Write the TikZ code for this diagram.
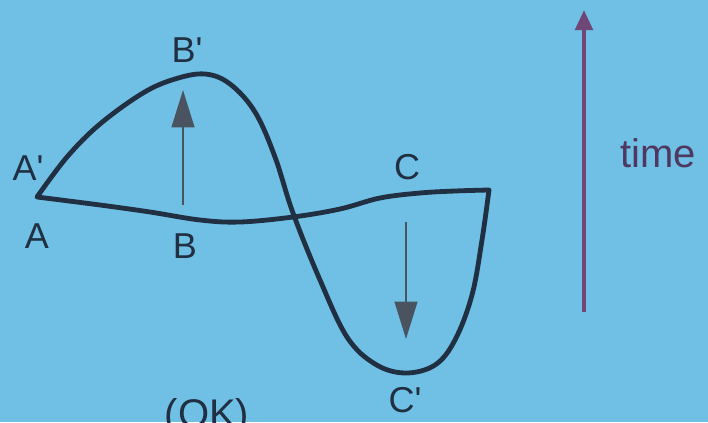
\documentclass[tikz,border=0pt]{standalone}
\usepackage{fontspec}
\setmainfont{Liberation Sans}
\usetikzlibrary{arrows.meta}
\definecolor{slide}{RGB}{112,191,229}
\definecolor{ink}{RGB}{32,48,66}
\definecolor{shift}{RGB}{74,84,96}
\definecolor{clock}{RGB}{112,72,120}
\definecolor{clocktext}{RGB}{78,56,96}

\begin{document}
\begin{tikzpicture}[x=0.75pt, y=-0.75pt, wave/.style={draw=ink, line width=3.6pt, line join=round, line cap=round}, lbl/.style={text=ink, font=\fontsize{27}{30}\selectfont, inner sep=0pt}, disp/.style={draw=shift, line width=1.6pt, -{Triangle[width=17pt, length=28pt]}}, timearrow/.style={draw=clock, line width=3pt, -{Triangle[width=13pt, length=15pt]}}]
\clip (0,0) rectangle (708,422);
\fill[slide] (0,0) rectangle (708,422);
% displaced string and string at rest, joined at the right end
\draw[wave] plot[smooth, tension=0.6] coordinates {(37,197) (67,157) (100,124) (143,93) (175,79) (205,74) (230,84) (255,112) (275,157) (293,213) (320,280) (347,337) (375,364) (405,373) (435,365) (455,340) (472,295) (482,240) (489,190)}
  -- plot[smooth, tension=0.6] coordinates {(489,190) (455,191) (420,193) (380,198) (340,209) (293,217) (240,222) (200,220) (150,212) (100,205) (37,197)} -- cycle;
\node[lbl] (a1) at (28,168) {A\textquotesingle};
\node[lbl] (a0) at (37,236) {A};
\node[lbl] (b1) at (187,50) {B\textquotesingle};
\node[lbl] (b0) at (185,246) {B};
\node[lbl] (c0) at (407,167) {C};
\node[lbl] (c1) at (405,400) {C\textquotesingle};
\coordinate (bfrom) at (183,205);\coordinate (bto) at (183,90);
\coordinate (cfrom) at (406,222);\coordinate (cto) at (406,339);
\draw[disp] (bfrom) -- (bto);\draw[disp] (cfrom) -- (cto);
\coordinate (tfrom) at (584,312);\coordinate (tto) at (584,10);
\draw[timearrow] (tfrom) -- (tto);
\node[text=clocktext, font=\fontsize{30}{34}\selectfont, inner sep=0pt] (time) at (658,153) {time};
\node[text=ink, font=\fontsize{30}{34}\selectfont, inner sep=0pt, anchor=base] (ok) at (207,427) {(OK)};
\end{tikzpicture}
\end{document}
